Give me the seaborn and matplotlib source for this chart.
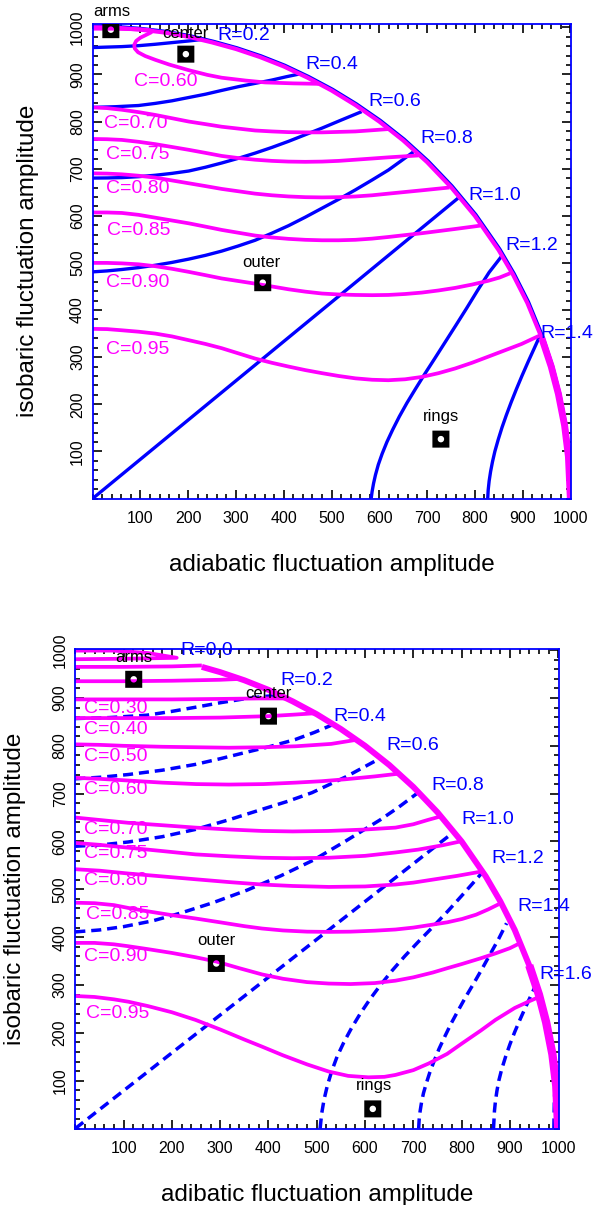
import numpy as np
import matplotlib
matplotlib.use("Agg")
import matplotlib.pyplot as plt
import seaborn as sns
from matplotlib.path import Path
from matplotlib.ticker import MultipleLocator
import matplotlib.transforms as mtransforms

sns.set_theme(style="white")
plt.rcParams['font.family'] = ['Liberation Sans', 'DejaVu Sans']

MAG = '#FF00FF'
BLUE = '#0000FF'

# ---------------- data ----------------
# outer boundary (total amplitude 1000)
bound_x = [0, 50, 100, 150, 200, 250, 300, 350, 400, 450, 500, 550, 600, 650, 700, 750,
           800, 850, 880, 910, 940, 960, 975, 988, 996, 1000]
bound_y = [1000, 999, 995, 989, 980, 968, 954, 937, 917, 893, 866, 835, 800, 760, 714, 661,
           600, 527, 475, 415, 341, 280, 222, 155, 89, 0]

# ---- top panel: C curves ----
top_c060_x = [0, 40, 80, 110, 125, 122, 112, 100, 91, 87, 88, 95, 110, 131, 160, 201, 240, 270,
              320, 361, 420, 473]
top_c060_y = [997, 997, 996, 995, 993, 989, 984, 978, 971, 963, 955, 947, 939, 931, 921, 909,
              899, 893, 887, 883, 881, 880]
top_c070_x = [0, 30, 61, 96, 131, 166, 201, 236, 270, 305, 340, 375, 410, 445, 480, 515, 550,
              585, 619]
top_c070_y = [830, 828.5, 825, 820, 814, 807, 800, 794.5, 789, 785, 781, 779, 777.5, 777, 777,
              778, 779, 781.5, 784]
top_c075_x = [0, 30, 61, 96, 131, 166, 201, 236, 270, 305, 340, 375, 410, 445, 480, 515, 550,
              585, 619, 650, 682]
top_c075_y = [763, 762.5, 761, 757, 752, 746, 740, 733.5, 727, 722.5, 719, 716.5, 715, 714.5,
              715, 716.5, 719, 721.5, 724, 726, 728]
top_c080_x = [0, 30, 61, 96, 131, 166, 201, 236, 270, 305, 340, 375, 410, 445, 480, 515, 550,
              585, 619, 654, 689, 718, 747]
top_c080_y = [690, 689.5, 688, 685, 681, 675, 669, 663, 657, 652, 647, 643.5, 641, 639.5, 639,
              639.5, 641, 643.5, 647, 650.5, 654, 657, 660]
top_c085_x = [0, 30, 61, 96, 131, 166, 201, 236, 270, 305, 340, 375, 410, 445, 480, 515, 550,
              585, 619, 654, 689, 724, 759, 785, 811]
top_c085_y = [607, 607, 606, 602, 596, 590, 584, 577, 570, 564, 558, 554, 551, 549, 548, 548,
              549, 551.5, 555, 559, 563, 567.5, 572, 575.5, 579]
top_c090_x = [0, 30, 61, 96, 131, 166, 201, 236, 270, 305, 340, 375, 410, 445, 480, 515, 550,
              585, 619, 654, 689, 724, 759, 794, 828, 852, 874]
top_c090_y = [500, 500, 499, 497, 493, 487.5, 481, 474, 467, 461.5, 456, 450, 444, 439, 435,
              433, 432, 431.5, 432, 434, 437, 441.5, 447, 454, 462, 469, 478]
top_c095_x = [0, 30, 61, 96, 131, 166, 201, 236, 270, 305, 340, 375, 410, 445, 480, 515, 550,
              585, 619, 654, 689, 724, 759, 794, 828, 863, 898, 934]
top_c095_y = [360, 359.5, 357, 354, 350, 344, 336, 328, 319, 308, 297, 288, 280, 272.5, 266,
              260, 255, 252, 251, 253, 258, 266, 276, 288, 301, 314.5, 328, 345]

# ---- top panel: R curves ----
top_r02_x = [0, 30, 61, 96, 131, 166, 201, 236]
top_r02_y = [957, 958, 959, 961, 964, 967.5, 971, 975]
top_r04_x = [0, 48, 96, 131, 166, 201, 236, 270, 305, 340, 375, 405, 438]
top_r04_y = [830, 831.5, 834, 838.5, 844, 851, 858, 866, 874, 881, 888, 895, 902]
top_r06_x = [0, 30, 61, 96, 131, 166, 201, 236, 270, 305, 340, 375, 410, 445, 480, 520, 563]
top_r06_y = [680, 680.3, 681, 683, 686, 690, 695, 703, 712, 722, 733, 745, 758, 772, 786, 803,
             821]
top_r08_x = [0, 30, 61, 96, 131, 166, 201, 236, 270, 305, 340, 375, 410, 445, 480, 515, 550,
             585, 619, 645, 672]
top_r08_y = [481, 483, 486, 490, 495, 501, 508, 516, 525, 536, 548, 563, 579, 597, 616, 635,
             655, 676, 697, 716, 736]
top_r10_x = [0, 768]
top_r10_y = [0, 640]
top_r12_x = [583, 585, 588, 592, 598, 606, 616, 628, 642, 658, 676, 695, 716, 738, 760, 783,
             806, 830, 856]
top_r12_y = [0, 15, 32, 50, 72, 95, 120, 146, 174, 203, 233, 264, 297, 332, 367, 404, 442, 480,
             514]
top_r14_x = [827, 828, 830, 833, 837, 842, 849, 857, 866, 876, 887, 899, 912, 925, 937]
top_r14_y = [0, 18, 37, 57, 78, 100, 125, 151, 177, 204, 232, 261, 291, 320, 347]

top_markers_x = [38, 195, 356, 729]
top_markers_y = [995, 943, 458, 126]
marker_names = ['arms', 'center', 'outer', 'rings']

# ---- bottom panel: C curves ----
bot_c000_x = [0, 100, 160, 210, 150, 80, 0]
bot_c000_y = [981, 982, 983, 984, 994, 999, 999]
bot_c010_x = [0, 100, 200, 262]
bot_c010_y = [965, 965, 966, 968]
bot_c020_x = [0, 100, 200, 300, 345]
bot_c020_y = [935, 935, 936, 938, 940]
bot_c030_x = [0, 100, 200, 300, 380, 438]
bot_c030_y = [897, 897, 897, 898, 899, 899]
bot_c040_x = [0, 100, 200, 300, 400, 450, 496]
bot_c040_y = [858, 858, 858, 859, 862, 865, 868]
bot_c050_x = [0, 50, 100, 180, 250, 318, 390, 456, 530, 579]
bot_c050_y = [803, 802, 800, 798, 797, 796, 797, 799, 804, 812]
bot_c060_x = [0, 50, 100, 180, 250, 318, 390, 456, 510, 559, 620, 672]
bot_c060_y = [733, 731, 728, 723, 720, 719, 720, 723, 726, 730, 736, 742]
bot_c070_x = [0, 50, 110, 180, 249, 320, 387, 450, 525, 600, 663, 700, 730, 755]
bot_c070_y = [650, 645, 639, 634, 629, 625, 622, 621, 622, 625, 629, 636, 645, 652]
bot_c075_x = [0, 50, 110, 180, 249, 320, 387, 450, 525, 600, 663, 710, 760, 797]
bot_c075_y = [597, 593, 587, 580, 573, 569, 566, 565, 566, 570, 577, 583, 592, 600]
bot_c080_x = [0, 50, 110, 180, 249, 320, 387, 450, 525, 600, 663, 700, 732, 790, 840]
bot_c080_y = [542, 539, 533, 527, 521, 515, 510, 507, 505, 506, 510, 514, 519, 528, 537]
bot_c085_x = [0, 40, 80, 110, 150, 200, 249, 300, 350, 387, 430, 480, 525, 570, 620, 663, 700,
              732, 770, 801, 830, 855, 877]
bot_c085_y = [472, 471, 467, 461, 454, 446, 439, 431, 423, 418, 414, 411.5, 411, 411.5, 413.5,
              416, 420, 425, 431, 438, 447, 458, 469]
bot_c090_x = [0, 40, 80, 110, 150, 200, 249, 292, 340, 387, 430, 480, 525, 570, 620, 663, 700,
              740, 770, 801, 840, 870, 900, 918]
bot_c090_y = [388, 388, 385, 381, 375, 367, 358, 349, 335, 322, 313, 306, 303, 302, 304, 309,
              316, 326, 335, 344, 356, 366, 377, 386]
bot_c095_x = [0, 40, 80, 110, 150, 200, 249, 300, 350, 387, 430, 480, 525, 565, 607, 640, 663,
              700, 732, 770, 801, 840, 870, 910, 940, 958]
bot_c095_y = [277, 275, 270, 265, 256, 243, 227, 207, 186, 171, 153, 134, 119, 110, 107, 108,
              112, 122, 136, 156, 178, 205, 227, 252, 266, 274]

bot_bound_x = [262, 300, 350, 400, 450, 500, 550, 600, 650, 700, 750, 800, 850, 880, 910,
               940, 960, 975, 988, 996, 1000]
bot_bound_y = [965, 954, 937, 917, 893, 866, 835, 800, 760, 714, 661, 600, 527, 475, 415,
               341, 280, 222, 155, 89, 0]

# ---- bottom panel: R curves ----
bot_r02_x = [0, 70, 148, 200, 251, 300, 355, 390, 424]
bot_r02_y = [857, 859, 864, 872, 881, 890, 899, 903, 906]
bot_r04_x = [0, 55, 110, 180, 248, 300, 352, 405, 455, 495, 535]
bot_r04_y = [731, 734.5, 740, 749, 761, 773, 786, 799, 813, 828, 845]
bot_r06_x = [0, 55, 110, 180, 248, 317, 386, 440, 490, 560, 628]
bot_r06_y = [590, 593, 599, 610, 625, 645, 667, 684, 702, 735, 772]
bot_r08_x = [0, 50, 100, 160, 217, 285, 355, 425, 493, 560, 631, 670, 707]
bot_r08_y = [411, 415, 422, 434, 450, 472, 498, 528, 561, 601, 645, 672, 700]
bot_r10_x = [0, 779]
bot_r10_y = [0, 616]
bot_r12_x = [507, 510, 515, 522, 531, 542, 556, 572, 590, 610, 632, 656, 682, 710, 740, 772,
             805, 841]
bot_r12_y = [0, 30, 60, 90, 120, 150, 180, 210, 240, 270, 300, 330, 360, 390, 421, 455, 492,
             533]
bot_r14_x = [711, 712, 714, 717, 721, 727, 734, 743, 753, 765, 778, 793, 809, 826, 843, 860,
             877, 893]
bot_r14_y = [0, 18, 36, 55, 74, 95, 117, 141, 166, 192, 219, 247, 276, 305, 335, 366, 397,
             429]
bot_r16_x = [866, 867, 868, 870, 873, 877, 883, 891, 900, 910, 921, 933, 944, 955]
bot_r16_y = [0, 18, 37, 57, 78, 100, 124, 150, 176, 202, 228, 255, 279, 303]
bot_r18_x = [991, 992, 995]
bot_r18_y = [0, 60, 110]

bot_markers_x = [121, 400, 292, 616]
bot_markers_y = [939, 862, 345, 41]

top_c_labels = ['C=0.60', 'C=0.70', 'C=0.75', 'C=0.80', 'C=0.85', 'C=0.90', 'C=0.95']
top_r_labels = ['R=0.2', 'R=0.4', 'R=0.6', 'R=0.8', 'R=1.0', 'R=1.2', 'R=1.4']
bot_c_labels = ['C=0.30', 'C=0.40', 'C=0.50', 'C=0.60', 'C=0.70', 'C=0.75', 'C=0.80',
                'C=0.85', 'C=0.90', 'C=0.95']
bot_r_labels = ['R=0.0', 'R=0.2', 'R=0.4', 'R=0.6', 'R=0.8', 'R=1.0', 'R=1.2', 'R=1.4', 'R=1.6']
tick_values = [100, 200, 300, 400, 500, 600, 700, 800, 900, 1000]

# ---------------- layout / style ----------------
top_c_pos = [(86, 885), (23, 795), (27, 730), (27, 657), (29, 568), (27, 458), (27, 317)]
top_r_pos = [(260, 982), (445, 920), (577, 843), (686, 763), (787, 642), (863, 536), (937, 351)]
top_mlabel_pos = [(41, 1033), (195, 987), (354, 501), (729, 174)]
bot_c_pos = [(17, 878), (17, 834), (19, 778), (17, 709), (17, 626), (17, 574), (17, 518),
             (22, 448), (17, 359), (22, 241)]
bot_r_pos = [(217, 1000), (424, 937), (535, 861), (645, 801), (738, 718), (800, 645),
             (862, 565), (916, 464), (960, 322)]
bot_mlabel_pos = [(122, 984), (400, 909), (293, 392), (618, 90)]

W, H = 607, 1205
fig = plt.figure(figsize=(W / 100, H / 100), dpi=100)
fig.patch.set_facecolor('white')
ax1 = fig.add_axes([92.7 / W, 1 - 498.5 / H, 478.6 / W, 474.5 / H])
ax2 = fig.add_axes([75.3 / W, 1 - 1128.5 / H, 483.4 / W, 479.8 / H])

# hollow square marker (black frame with round hole)
theta = np.linspace(0, 2 * np.pi, 41)
sq = [(-1, -1), (1, -1), (1, 1), (-1, 1), (-1, -1)]
hole = [(0.38 * np.cos(t), -0.38 * np.sin(t)) for t in theta]
mcodes = [Path.MOVETO] + [Path.LINETO] * 3 + [Path.CLOSEPOLY] + \
         [Path.MOVETO] + [Path.LINETO] * (len(hole) - 2) + [Path.CLOSEPOLY]
box_marker = Path(sq + hole, mcodes)


def draw(ax, x, y, color, lw, ls='-', z=2, transform=None):
    kw = dict(sort=False, estimator=None, color=color, linewidth=lw, linestyle=ls,
              ax=ax, zorder=z, legend=False)
    sns.lineplot(x=x, y=y, **kw)
    line = ax.lines[-1]
    line.set_solid_capstyle('butt')
    line.set_dash_capstyle('butt')
    line.set_solid_joinstyle('round')
    if transform is not None:
        line.set_transform(transform)


def style_axes(ax, xmax, ymax, xlabel, ylabelpad):
    ax.set_xlim(0, xmax)
    ax.set_ylim(0, ymax)
    ax.set_facecolor('white')
    for s in ax.spines.values():
        s.set_color(BLUE)
        s.set_linewidth(1.3)
        s.set_visible(True)
    ax.set_xticks(tick_values)
    ax.set_yticks(tick_values)
    ax.xaxis.set_minor_locator(MultipleLocator(20))
    ax.yaxis.set_minor_locator(MultipleLocator(20))
    ax.tick_params(which='both', direction='in', top=True, right=True, bottom=True,
                   left=True, color='black', width=1.2, labelcolor='black',
                   labelsize=11.5)
    ax.tick_params(which='major', length=6.5)
    ax.tick_params(which='minor', length=3.5)
    ax.tick_params(axis='x', pad=9)
    ax.tick_params(axis='y', pad=5.5, labelrotation=90)
    for lab in ax.get_yticklabels():
        lab.set_va('center')
    ax.grid(False)
    ax.set_xlabel(xlabel, fontsize=17.5, color='black', labelpad=20)
    ax.set_ylabel('isobaric fluctuation amplitude', fontsize=17.5, color='black',
                  labelpad=ylabelpad)


# ---------------- top panel ----------------
off = mtransforms.offset_copy(ax1.transData, fig=fig, x=1.0, y=1.0, units='dots')
draw(ax1, bound_x, bound_y, BLUE, 2.6, z=1.5, transform=off)
draw(ax1, bound_x, bound_y, MAG, 3.0, z=2.5)
draw(ax1, bound_x[20:], bound_y[20:], MAG, 5.0, z=2.5)
for xs, ys in [(top_c060_x, top_c060_y), (top_c070_x, top_c070_y), (top_c075_x, top_c075_y),
               (top_c080_x, top_c080_y), (top_c085_x, top_c085_y), (top_c090_x, top_c090_y),
               (top_c095_x, top_c095_y)]:
    draw(ax1, xs, ys, MAG, 2.7, z=2.2)
for xs, ys in [(top_r02_x, top_r02_y), (top_r04_x, top_r04_y), (top_r06_x, top_r06_y),
               (top_r08_x, top_r08_y), (top_r10_x, top_r10_y), (top_r12_x, top_r12_y),
               (top_r14_x, top_r14_y)]:
    draw(ax1, xs, ys, BLUE, 2.4, z=2.1)

sns.scatterplot(x=top_markers_x, y=top_markers_y, marker=box_marker, s=150, color='black',
                edgecolor='none', linewidth=0, ax=ax1, zorder=5, legend=False)
for (px, py), t in zip(top_c_pos, top_c_labels):
    ax1.text(px, py, t, color=MAG, fontsize=14, ha='left', va='center', zorder=6)
for (px, py), t in zip(top_r_pos, top_r_labels):
    ax1.text(px, py, t, color=BLUE, fontsize=14, ha='left', va='center', zorder=6,
             clip_on=False)
for (px, py), t in zip(top_mlabel_pos, marker_names):
    ax1.text(px, py, t, color='black', fontsize=12, ha='center', va='center', zorder=6,
             clip_on=False)
style_axes(ax1, 1002, 1007, 'adiabatic fluctuation amplitude', 22.5)

# ---------------- bottom panel ----------------
draw(ax2, bot_bound_x, bot_bound_y, MAG, 4.3, z=2.5)
draw(ax2, bot_bound_x[15:], bot_bound_y[15:], MAG, 6.0, z=2.5)
for xs, ys in [(bot_c000_x, bot_c000_y), (bot_c010_x, bot_c010_y), (bot_c020_x, bot_c020_y),
               (bot_c030_x, bot_c030_y), (bot_c040_x, bot_c040_y), (bot_c050_x, bot_c050_y),
               (bot_c060_x, bot_c060_y), (bot_c070_x, bot_c070_y), (bot_c075_x, bot_c075_y),
               (bot_c080_x, bot_c080_y), (bot_c085_x, bot_c085_y), (bot_c090_x, bot_c090_y),
               (bot_c095_x, bot_c095_y)]:
    draw(ax2, xs, ys, MAG, 2.7, z=2.2)
for xs, ys in [(bot_r02_x, bot_r02_y), (bot_r04_x, bot_r04_y), (bot_r06_x, bot_r06_y),
               (bot_r08_x, bot_r08_y), (bot_r10_x, bot_r10_y), (bot_r12_x, bot_r12_y),
               (bot_r14_x, bot_r14_y), (bot_r16_x, bot_r16_y), (bot_r18_x, bot_r18_y)]:
    draw(ax2, xs, ys, BLUE, 2.5, ls=(0, (2.9, 1.7)), z=2.1)

sns.scatterplot(x=bot_markers_x, y=bot_markers_y, marker=box_marker, s=150, color='black',
                edgecolor='none', linewidth=0, ax=ax2, zorder=5, legend=False)
for (px, py), t in zip(bot_c_pos, bot_c_labels):
    ax2.text(px, py, t, color=MAG, fontsize=14, ha='left', va='center', zorder=6)
for (px, py), t in zip(bot_r_pos, bot_r_labels):
    ax2.text(px, py, t, color=BLUE, fontsize=14, ha='left', va='center', zorder=6,
             clip_on=False)
for (px, py), t in zip(bot_mlabel_pos, marker_names):
    ax2.text(px, py, t, color='black', fontsize=12, ha='center', va='center', zorder=6,
             clip_on=False)
style_axes(ax2, 1001, 1003, 'adibatic fluctuation amplitude', 19.0)

fig.savefig('out.png', dpi=100, facecolor='white')
